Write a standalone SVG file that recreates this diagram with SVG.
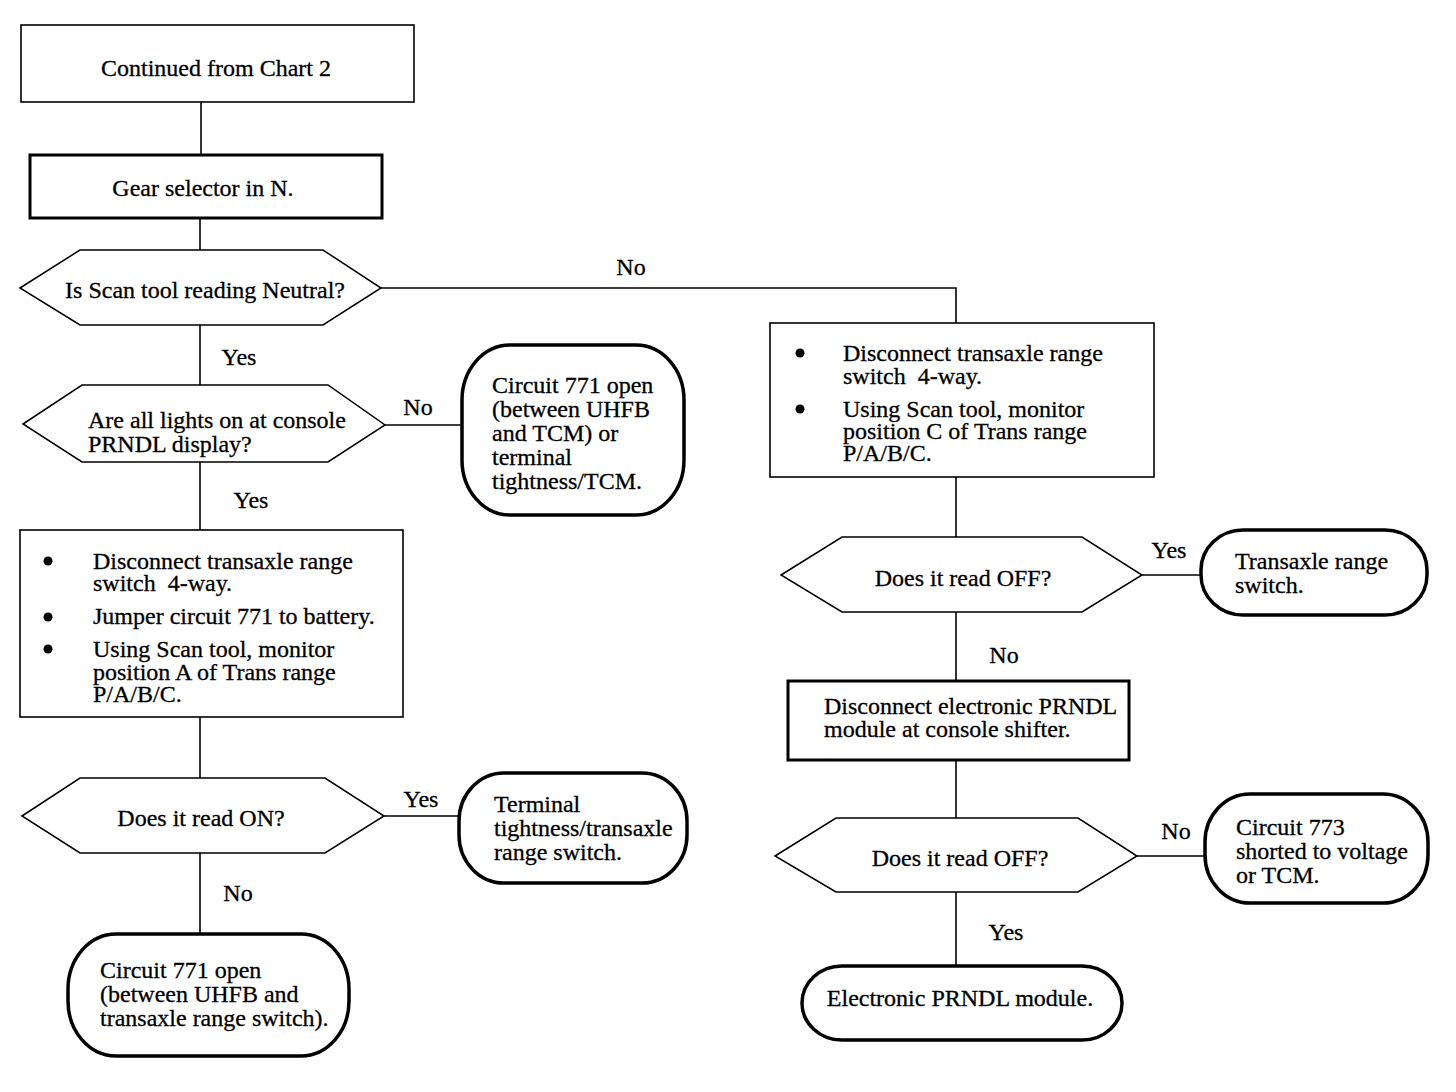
<svg xmlns="http://www.w3.org/2000/svg" width="1456" height="1092" viewBox="0 0 1456 1092">
<style>
text{font-family:"Liberation Serif","Times New Roman",serif;font-size:24px;fill:#000;stroke:#000;stroke-width:0.3}
.c{text-anchor:middle}
.thin{fill:#fff;stroke:#000;stroke-width:1.6}
.thick{fill:#fff;stroke:#000;stroke-width:3}
.term{fill:#fff;stroke:#000;stroke-width:3.5}
.hex{fill:#fff;stroke:#000;stroke-width:1.5}
.ln{fill:none;stroke:#000;stroke-width:1.6}
</style>
<rect width="1456" height="1092" fill="#fff"/>
<g id="connectors">
<line class="ln" x1="201" y1="102" x2="201" y2="155"/>
<line class="ln" x1="200" y1="218" x2="200" y2="250"/>
<polyline class="ln" points="381,288 956,288 956,323"/>
<line class="ln" x1="200" y1="325" x2="200" y2="385"/>
<line class="ln" x1="385" y1="425" x2="462" y2="425"/>
<line class="ln" x1="200" y1="462" x2="200" y2="530"/>
<line class="ln" x1="200" y1="717" x2="200" y2="778"/>
<line class="ln" x1="384" y1="816" x2="460" y2="816"/>
<line class="ln" x1="200" y1="853" x2="200" y2="934"/>
<line class="ln" x1="956" y1="477" x2="956" y2="537"/>
<line class="ln" x1="1142" y1="575" x2="1201" y2="575"/>
<line class="ln" x1="956" y1="612" x2="956" y2="681"/>
<line class="ln" x1="956" y1="760" x2="956" y2="818"/>
<line class="ln" x1="1137" y1="856" x2="1205" y2="856"/>
<line class="ln" x1="956" y1="892" x2="956" y2="966"/>
<text class="c" x="631" y="275">No</text>
<text class="c" x="239" y="365">Yes</text>
<text class="c" x="418" y="415">No</text>
<text class="c" x="251" y="508">Yes</text>
<text class="c" x="421" y="807">Yes</text>
<text class="c" x="238" y="901">No</text>
<text class="c" x="1169" y="558">Yes</text>
<text class="c" x="1004" y="663">No</text>
<text class="c" x="1176" y="839">No</text>
<text class="c" x="1006" y="940">Yes</text>
</g>
<g id="n1">
<rect class="thin" x="21" y="25" width="393" height="77"/>
<text class="c" x="216" y="76">Continued from Chart 2</text>
</g>
<g id="n2">
<rect class="thick" x="30" y="155" width="352" height="63"/>
<text class="c" x="203" y="196">Gear selector in N.</text>
</g>
<g id="n3">
<polygon class="hex" points="20,288 80,250 323,250 381,288 323,325 80,325"/>
<text class="c" x="205" y="298">Is Scan tool reading Neutral?</text>
</g>
<g id="n4">
<polygon class="hex" points="23,424 82,385 328,385 385,425 328,462 82,462"/>
<text x="88" y="428">Are all lights on at console</text>
<text x="88" y="452">PRNDL display?</text>
</g>
<g id="n5">
<rect class="term" x="462" y="345" width="222" height="170" rx="48" ry="55"/>
<text x="492" y="393">Circuit 771 open</text>
<text x="492" y="417">(between UHFB</text>
<text x="492" y="441">and TCM) or</text>
<text x="492" y="465">terminal</text>
<text x="492" y="489">tightness/TCM.</text>
</g>
<g id="n6">
<rect class="thin" x="20" y="530" width="383" height="187"/>
<circle cx="48" cy="561" r="4.5"/>
<circle cx="48" cy="617" r="4.5"/>
<circle cx="48" cy="649" r="4.5"/>
<text x="93" y="569">Disconnect transaxle range</text>
<text x="93" y="591" xml:space="preserve">switch  4-way.</text>
<text x="93" y="624">Jumper circuit 771 to battery.</text>
<text x="93" y="657">Using Scan tool, monitor</text>
<text x="93" y="680">position A of Trans range</text>
<text x="93" y="702">P/A/B/C.</text>
</g>
<g id="n7">
<polygon class="hex" points="22,816 80,778 325,778 384,816 325,853 80,853"/>
<text class="c" x="201" y="826">Does it read ON?</text>
</g>
<g id="n8">
<rect class="term" x="459" y="773" width="228" height="110" rx="45" ry="48"/>
<text x="494" y="812">Terminal</text>
<text x="494" y="836">tightness/transaxle</text>
<text x="494" y="860">range switch.</text>
</g>
<g id="n9">
<rect class="term" x="68" y="934" width="281" height="122" rx="48" ry="55"/>
<text x="100" y="978">Circuit 771 open</text>
<text x="100" y="1002">(between UHFB and</text>
<text x="100" y="1026">transaxle range switch).</text>
</g>
<g id="n10">
<rect class="thin" x="770" y="323" width="384" height="154"/>
<circle cx="800" cy="353" r="4.5"/>
<circle cx="800" cy="409" r="4.5"/>
<text x="843" y="361">Disconnect transaxle range</text>
<text x="843" y="384" xml:space="preserve">switch  4-way.</text>
<text x="843" y="417">Using Scan tool, monitor</text>
<text x="843" y="439">position C of Trans range</text>
<text x="843" y="461">P/A/B/C.</text>
</g>
<g id="n11">
<polygon class="hex" points="781,575 842,537 1082,537 1142,575 1082,612 842,612"/>
<text class="c" x="963" y="586">Does it read OFF?</text>
</g>
<g id="n12">
<rect class="term" x="1201" y="530" width="226" height="85" rx="42" ry="40"/>
<text x="1235" y="569">Transaxle range</text>
<text x="1235" y="593">switch.</text>
</g>
<g id="n13">
<rect class="thick" x="788" y="681" width="341" height="79"/>
<text x="824" y="714">Disconnect electronic PRNDL</text>
<text x="824" y="737">module at console shifter.</text>
</g>
<g id="n14">
<polygon class="hex" points="775,856 836,818 1078,818 1137,856 1078,892 836,892"/>
<text class="c" x="960" y="866">Does it read OFF?</text>
</g>
<g id="n15">
<rect class="term" x="1205" y="794" width="223" height="109" rx="45" ry="48"/>
<text x="1236" y="835">Circuit 773</text>
<text x="1236" y="859">shorted to voltage</text>
<text x="1236" y="883">or TCM.</text>
</g>
<g id="n16">
<rect class="term" x="802" y="966" width="320" height="74" rx="40" ry="37"/>
<text class="c" x="960" y="1006">Electronic PRNDL module.</text>
</g>
</svg>
